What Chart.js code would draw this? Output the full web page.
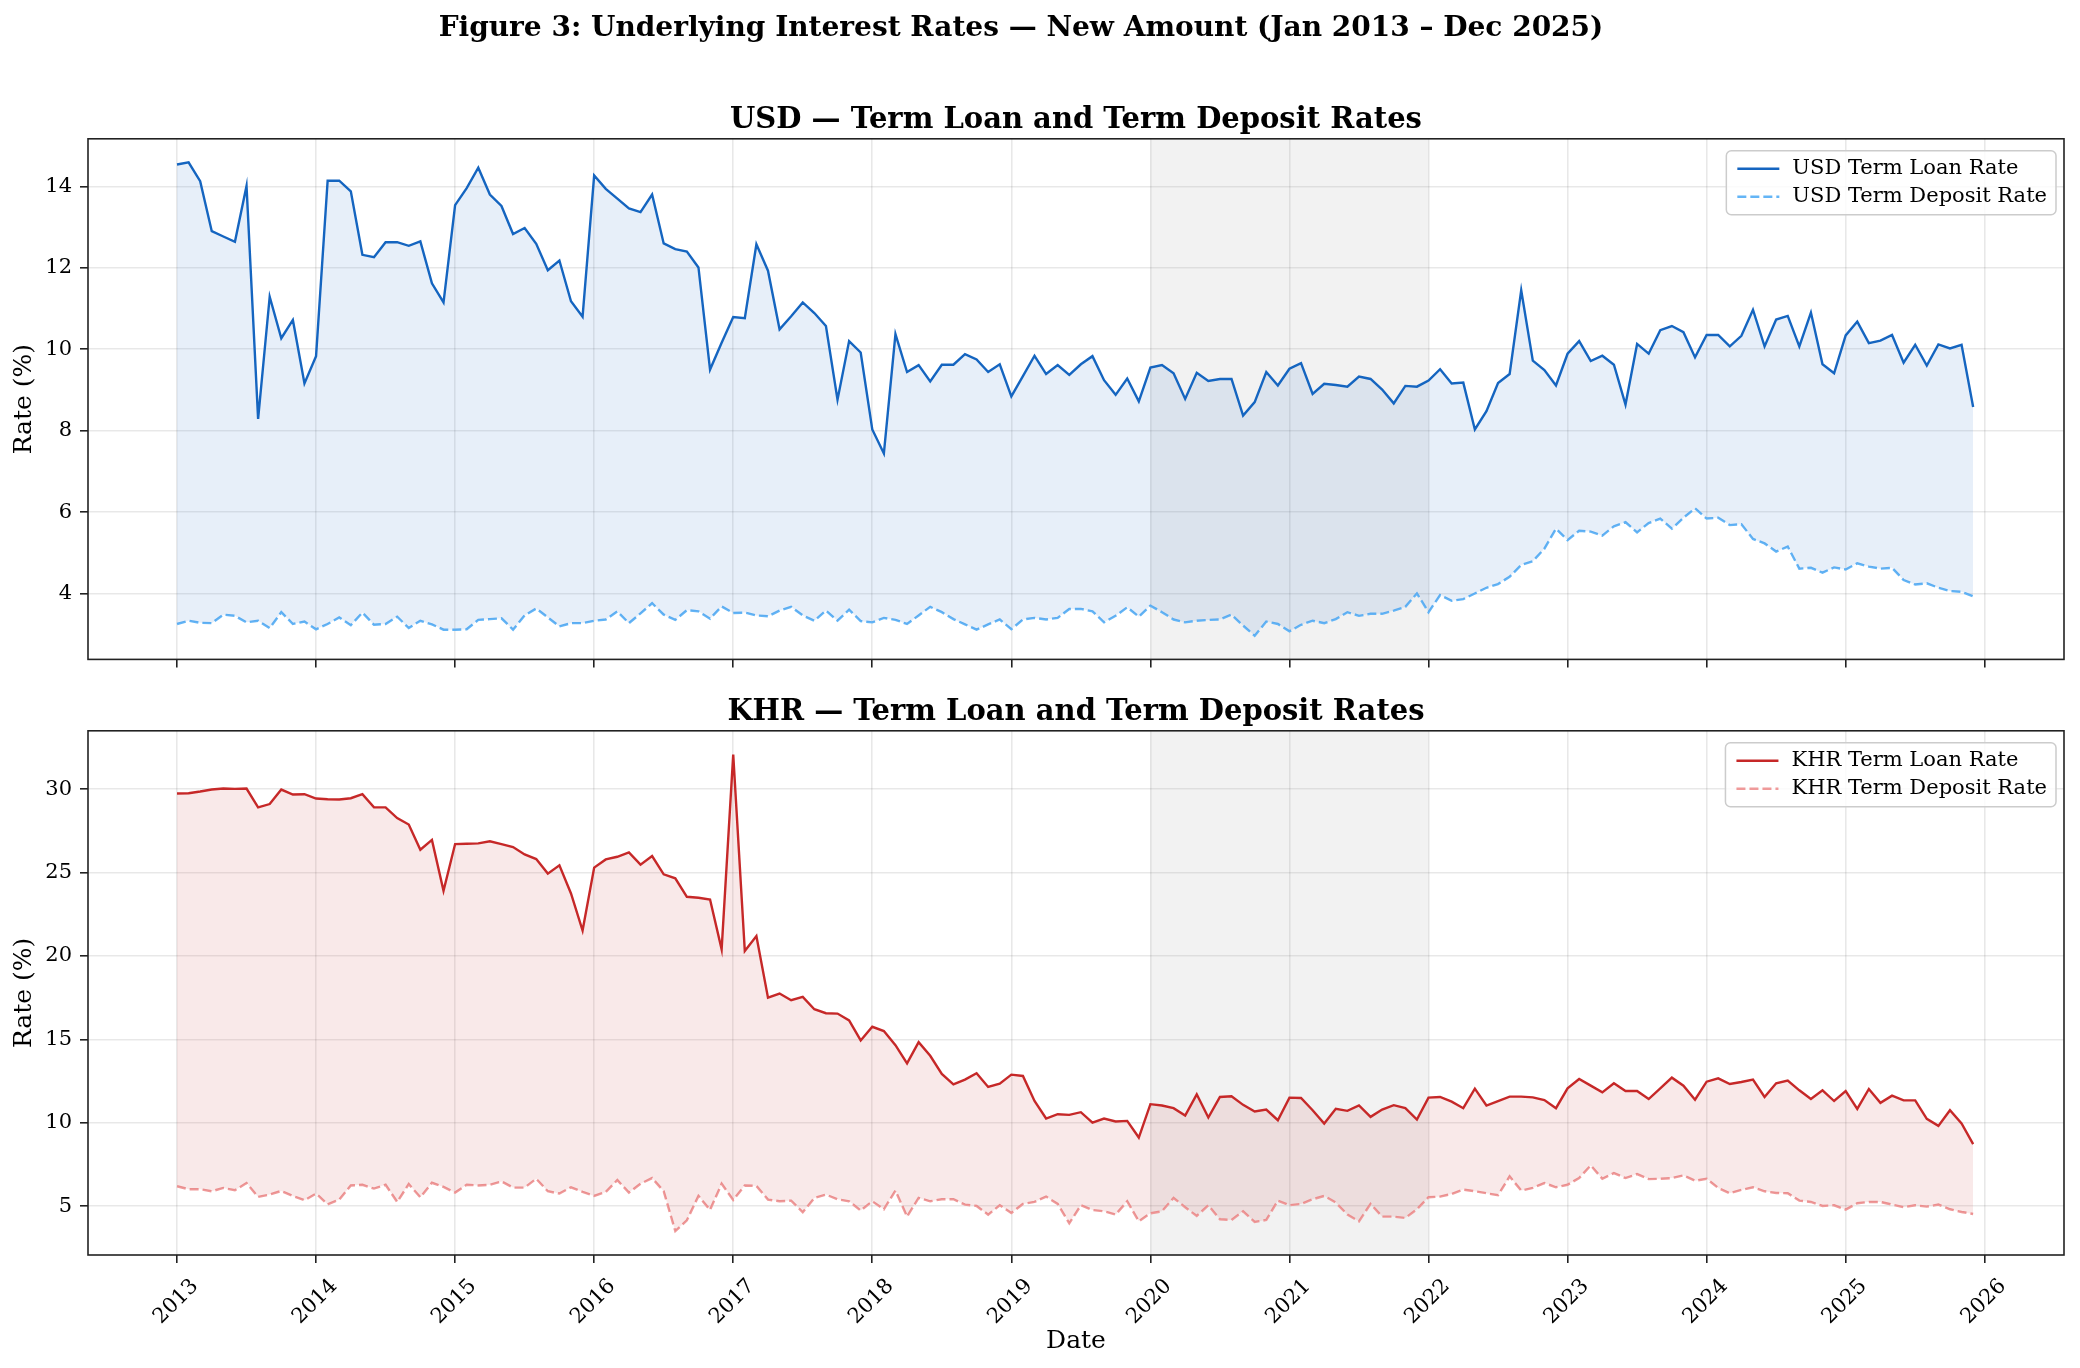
<!DOCTYPE html>
<html>
<head>
<meta charset="utf-8">
<title>Figure 3: Underlying Interest Rates</title>
<script src="https://cdn.jsdelivr.net/npm/chart.js@4.4.1/dist/chart.umd.min.js"></script>
<style>
  html, body { margin: 0; padding: 0; background: #fff; }
  body { width: 2080px; height: 1368px; position: relative; overflow: hidden; }
  .panel { position: absolute; left: 0; width: 2080px; }
  #usdBox { top: 0; height: 680px; }
  #khrBox { top: 680px; height: 688px; }
  #figTitle {
    position: absolute; left: 0; top: 10px; width: 2042px; height: 36px;
    line-height: 36px; text-align: center; z-index: 2;
    font: bold 28px 'DejaVu Serif', serif; color: #000;
  }
</style>
</head>
<body>
<div id="figTitle">Figure 3: Underlying Interest Rates — New Amount (Jan 2013 – Dec 2025)</div>
<div class="panel" id="usdBox"><canvas id="usdChart"></canvas></div>
<div class="panel" id="khrBox"><canvas id="khrChart"></canvas></div>
<script>
// Monthly series, Jan 2013 - Dec 2025, one row per year
const startYear = 2013;

const usdLoan = [
  14.54, 14.59, 14.13, 12.90, 12.77, 12.64, 14.01, 8.29, 11.29, 10.27, 10.72, 9.16,
  9.83, 14.14, 14.14, 13.88, 12.32, 12.26, 12.63, 12.63, 12.54, 12.65, 11.62, 11.15,
  13.54, 13.96, 14.46, 13.80, 13.52, 12.83, 12.98, 12.59, 11.94, 12.18, 11.18, 10.80,
  14.27, 13.94, 13.70, 13.46, 13.37, 13.80, 12.60, 12.46, 12.40, 12.01, 9.50, 10.16,
  10.79, 10.76, 12.58, 11.93, 10.49, 10.81, 11.15, 10.89, 10.57, 8.76, 10.20, 9.92,
  8.03, 7.44, 10.37, 9.44, 9.61, 9.21, 9.62, 9.62, 9.88, 9.75, 9.44, 9.63,
  8.84, 9.34, 9.84, 9.39, 9.61, 9.37, 9.63, 9.83, 9.24, 8.88, 9.28, 8.72,
  9.55, 9.61, 9.41, 8.78, 9.42, 9.22, 9.27, 9.27, 8.37, 8.70, 9.44, 9.11,
  9.52, 9.66, 8.90, 9.15, 9.12, 9.08, 9.33, 9.27, 9.01, 8.67, 9.10, 9.08,
  9.23, 9.51, 9.16, 9.18, 8.03, 8.48, 9.17, 9.39, 11.45, 9.72, 9.49, 9.11,
  9.89, 10.20, 9.71, 9.84, 9.62, 8.64, 10.13, 9.89, 10.47, 10.57, 10.42, 9.80,
  10.35, 10.35, 10.07, 10.33, 10.97, 10.07, 10.73, 10.82, 10.07, 10.90, 9.63, 9.41,
  10.34, 10.68, 10.15, 10.21, 10.35, 9.67, 10.11, 9.60, 10.12, 10.02, 10.11, 8.58
];

const usdDeposit = [
  3.25, 3.33, 3.28, 3.27, 3.48, 3.45, 3.29, 3.33, 3.15, 3.54, 3.25, 3.31,
  3.12, 3.25, 3.41, 3.22, 3.53, 3.23, 3.25, 3.43, 3.15, 3.33, 3.24, 3.11,
  3.11, 3.12, 3.35, 3.37, 3.39, 3.11, 3.46, 3.63, 3.41, 3.19, 3.27, 3.27,
  3.33, 3.36, 3.56, 3.27, 3.51, 3.76, 3.48, 3.35, 3.59, 3.56, 3.38, 3.68,
  3.52, 3.53, 3.46, 3.44, 3.58, 3.67, 3.46, 3.33, 3.58, 3.33, 3.60, 3.32,
  3.29, 3.40, 3.35, 3.25, 3.46, 3.67, 3.54, 3.37, 3.24, 3.11, 3.24, 3.36,
  3.12, 3.36, 3.40, 3.36, 3.40, 3.62, 3.62, 3.56, 3.29, 3.45, 3.66, 3.43,
  3.70, 3.54, 3.36, 3.29, 3.33, 3.35, 3.36, 3.48, 3.21, 2.96, 3.31, 3.25,
  3.07, 3.23, 3.33, 3.27, 3.37, 3.54, 3.45, 3.50, 3.50, 3.58, 3.67, 4.00,
  3.54, 3.96, 3.82, 3.86, 4.00, 4.14, 4.23, 4.41, 4.70, 4.79, 5.10, 5.59,
  5.31, 5.54, 5.52, 5.42, 5.65, 5.75, 5.50, 5.73, 5.84, 5.59, 5.86, 6.09,
  5.84, 5.86, 5.68, 5.70, 5.34, 5.23, 5.03, 5.15, 4.61, 4.63, 4.51, 4.64,
  4.59, 4.74, 4.66, 4.61, 4.63, 4.33, 4.22, 4.25, 4.14, 4.06, 4.04, 3.93
];

const khrLoan = [
  29.74, 29.76, 29.86, 29.98, 30.04, 30.02, 30.04, 28.91, 29.11, 29.98, 29.68, 29.70,
  29.44, 29.40, 29.38, 29.46, 29.70, 28.91, 28.91, 28.27, 27.88, 26.37, 26.96, 23.91,
  26.71, 26.73, 26.75, 26.88, 26.71, 26.53, 26.09, 25.81, 24.94, 25.44, 23.75, 21.53,
  25.30, 25.79, 25.95, 26.21, 25.48, 25.99, 24.90, 24.66, 23.55, 23.49, 23.39, 20.40,
  32.08, 20.30, 21.20, 17.50, 17.75, 17.35, 17.55, 16.81, 16.57, 16.55, 16.14, 14.94,
  15.76, 15.50, 14.66, 13.57, 14.84, 14.02, 12.93, 12.31, 12.59, 12.97, 12.15, 12.35,
  12.89, 12.81, 11.31, 10.26, 10.52, 10.48, 10.64, 10.02, 10.26, 10.08, 10.12, 9.12,
  11.12, 11.04, 10.88, 10.44, 11.71, 10.32, 11.55, 11.59, 11.08, 10.68, 10.80, 10.16,
  11.51, 11.49, 10.76, 9.96, 10.84, 10.72, 11.04, 10.36, 10.80, 11.06, 10.88, 10.20,
  11.51, 11.55, 11.27, 10.88, 12.05, 11.04, 11.31, 11.57, 11.57, 11.53, 11.37, 10.88,
  12.07, 12.63, 12.23, 11.83, 12.37, 11.91, 11.91, 11.43, 12.07, 12.71, 12.23, 11.39,
  12.47, 12.67, 12.33, 12.45, 12.59, 11.55, 12.37, 12.53, 11.95, 11.43, 11.95, 11.31,
  11.91, 10.84, 12.03, 11.20, 11.63, 11.35, 11.35, 10.24, 9.82, 10.76, 9.96, 8.73
];

const khrDeposit = [
  6.20, 6.02, 6.02, 5.90, 6.10, 5.96, 6.39, 5.56, 5.70, 5.92, 5.62, 5.36,
  5.76, 5.12, 5.40, 6.25, 6.29, 6.06, 6.29, 5.26, 6.33, 5.54, 6.41, 6.16,
  5.82, 6.29, 6.25, 6.29, 6.49, 6.12, 6.12, 6.65, 5.90, 5.76, 6.14, 5.86,
  5.62, 5.86, 6.57, 5.82, 6.35, 6.69, 5.90, 3.51, 4.16, 5.62, 4.78, 6.35,
  5.38, 6.25, 6.22, 5.40, 5.30, 5.34, 4.64, 5.50, 5.70, 5.42, 5.30, 4.74,
  5.30, 4.82, 5.94, 4.38, 5.50, 5.30, 5.42, 5.42, 5.10, 5.02, 4.50, 5.06,
  4.60, 5.14, 5.26, 5.58, 5.14, 3.98, 5.06, 4.78, 4.70, 4.50, 5.30, 4.10,
  4.58, 4.70, 5.50, 4.94, 4.42, 5.06, 4.22, 4.18, 4.70, 4.06, 4.18, 5.34,
  5.06, 5.14, 5.42, 5.62, 5.22, 4.50, 4.10, 5.14, 4.38, 4.38, 4.30, 4.82,
  5.54, 5.58, 5.74, 6.00, 5.90, 5.78, 5.66, 6.79, 5.94, 6.10, 6.39, 6.14,
  6.29, 6.69, 7.45, 6.65, 6.99, 6.69, 6.93, 6.63, 6.65, 6.69, 6.85, 6.53,
  6.65, 6.10, 5.78, 5.98, 6.14, 5.90, 5.80, 5.78, 5.34, 5.26, 5.02, 5.06,
  4.80, 5.18, 5.26, 5.26, 5.10, 4.94, 5.06, 4.98, 5.10, 4.82, 4.66, 4.54
];

const yearTicks = [2013, 2014, 2015, 2016, 2017, 2018, 2019, 2020, 2021, 2022, 2023, 2024, 2025, 2026];
const usdTicks = [4, 6, 8, 10, 12, 14];
const khrTicks = [5, 10, 15, 20, 25, 30];
const shadedPeriod = [2020, 2022];

// Color palette
const colors = {
  usdLoan: '#1565C0',
  usdDeposit: '#64B5F6',
  usdFill: 'rgba(21, 101, 192, 0.1)',
  khrLoan: '#C62828',
  khrDeposit: '#EF9A9A',
  khrFill: 'rgba(198, 40, 40, 0.1)',
  grid: 'rgba(0, 0, 0, 0.09)',
  spine: '#222222',
  band: 'rgba(128, 128, 128, 0.1)',
};

const months = usdLoan.map((_, i) => startYear + i / 12);
const toPoints = values => values.map((v, i) => ({ x: months[i], y: v }));

Chart.defaults.font.family = "'DejaVu Serif', serif";
Chart.defaults.color = '#000';

// Grey band over the shaded period
const bandPlugin = {
  id: 'band',
  beforeDatasetsDraw(chart) {
    const { ctx, chartArea: a, scales: { x } } = chart;
    const x0 = x.getPixelForValue(shadedPeriod[0]);
    const x1 = x.getPixelForValue(shadedPeriod[1]);
    ctx.save();
    ctx.fillStyle = colors.band;
    ctx.fillRect(x0, a.top, x1 - x0, a.bottom - a.top);
    ctx.restore();
  }
};

// Box around the plot area (all four spines)
const framePlugin = {
  id: 'frame',
  afterDatasetsDraw(chart) {
    const { ctx, chartArea: a } = chart;
    ctx.save();
    ctx.strokeStyle = colors.spine;
    ctx.lineWidth = 1.6;
    ctx.strokeRect(a.left, a.top, a.right - a.left, a.bottom - a.top);
    ctx.restore();
  }
};

// Legend in the upper right corner, inside the axes
const boxLegendPlugin = {
  id: 'boxLegend',
  afterDraw(chart) {
    const { ctx, chartArea: a } = chart;
    const sets = chart.data.datasets;
    const lineLen = 42, gap = 13, padL = 11, padR = 9, rowH = 28, padT = 17;
    ctx.save();
    ctx.font = "21px 'DejaVu Serif'";
    const textW = Math.max(...sets.map(d => ctx.measureText(d.label).width));
    const w = padL + lineLen + gap + textW + padR;
    const h = padT * 2 + rowH * (sets.length - 1) + 2;
    const left = a.right - 8 - w;
    const top = a.top + 12;

    ctx.beginPath();
    ctx.roundRect(left, top, w, h, 5);
    ctx.fillStyle = 'rgba(255, 255, 255, 0.8)';
    ctx.fill();
    ctx.strokeStyle = '#cccccc';
    ctx.lineWidth = 1.5;
    ctx.stroke();

    sets.forEach((d, i) => {
      const y = top + padT + 1 + i * rowH;
      ctx.beginPath();
      ctx.setLineDash(d.borderDash || []);
      ctx.strokeStyle = d.borderColor;
      ctx.lineWidth = d.borderWidth;
      ctx.moveTo(left + padL, y);
      ctx.lineTo(left + padL + lineLen, y);
      ctx.stroke();
      ctx.setLineDash([]);
      ctx.fillStyle = '#000';
      ctx.textBaseline = 'middle';
      ctx.textAlign = 'left';
      ctx.fillText(d.label, left + padL + lineLen + gap, y);
    });
    ctx.restore();
  }
};

function lineSet(label, values, color, dashed, fillColor) {
  return {
    label: label,
    data: toPoints(values),
    borderColor: color,
    backgroundColor: fillColor || color,
    borderWidth: 2.4,
    borderDash: dashed ? [9, 4] : [],
    pointRadius: 0,
    tension: 0,
    fill: fillColor ? '+1' : false
  };
}

function makePanel(canvasId, opts) {
  const xAxis = {
    type: 'linear',
    min: 2012.36,
    max: 2026.57,
    afterBuildTicks: axis => { axis.ticks = yearTicks.map(v => ({ value: v })); },
    afterFit: axis => { axis.height = opts.xHeight; },
    grid: { color: colors.grid, lineWidth: 1.6, tickLength: 8, tickColor: colors.spine, tickWidth: 1.6 },
    border: { display: false },
    ticks: {
      display: opts.showDates,
      autoSkip: false,
      minRotation: 45,
      maxRotation: 45,
      labelOffset: 18,
      padding: 11,
      font: { size: 21 },
      callback: v => String(v)
    },
    title: { display: opts.showDates, text: 'Date', font: { size: 25 }, padding: { top: 0, bottom: 12 } }
  };

  const yAxis = {
    type: 'linear',
    min: opts.yMin,
    max: opts.yMax,
    afterBuildTicks: axis => { axis.ticks = opts.yTicks.map(v => ({ value: v })); },
    afterFit: axis => { axis.width = 88; },
    grid: { color: colors.grid, lineWidth: 1.6, tickLength: 8, tickColor: colors.spine, tickWidth: 1.6 },
    border: { display: false },
    ticks: { padding: 8, font: { size: 21 }, callback: v => String(v) },
    title: { display: true, text: 'Rate (%)', font: { size: 25 }, padding: { top: 9, bottom: 0 } }
  };

  return new Chart(document.getElementById(canvasId), {
    type: 'line',
    data: { datasets: opts.datasets },
    options: {
      responsive: true,
      maintainAspectRatio: false,
      animation: false,
      layout: { padding: { left: 0, right: 16, top: 0, bottom: 0 } },
      scales: { x: xAxis, y: yAxis },
      plugins: {
        legend: { display: false },
        tooltip: { enabled: false },
        title: opts.title
      }
    },
    plugins: [bandPlugin, framePlugin, boxLegendPlugin]
  });
}

document.addEventListener('DOMContentLoaded', function () {
  // 1. USD panel
  makePanel('usdChart', {
    datasets: [
      lineSet('USD Term Loan Rate', usdLoan, colors.usdLoan, false, colors.usdFill),
      lineSet('USD Term Deposit Rate', usdDeposit, colors.usdDeposit, true)
    ],
    yTicks: usdTicks,
    yMin: 2.38,
    yMax: 15.17,
    xHeight: 18,
    showDates: false,
    title: {
      display: true,
      text: 'USD \u2014 Term Loan and Term Deposit Rates',
      font: { size: 29, weight: 'bold' },
      padding: { top: 103, bottom: 1 },
      fullSize: false
    }
  });

  // 2. KHR panel
  makePanel('khrChart', {
    datasets: [
      lineSet('KHR Term Loan Rate', khrLoan, colors.khrLoan, false, colors.khrFill),
      lineSet('KHR Term Deposit Rate', khrDeposit, colors.khrDeposit, true)
    ],
    yTicks: khrTicks,
    yMin: 2.08,
    yMax: 33.5,
    xHeight: 113,
    showDates: true,
    title: {
      display: true,
      text: 'KHR \u2014 Term Loan and Term Deposit Rates',
      font: { size: 29, weight: 'bold' },
      padding: { top: 15, bottom: 1 },
      fullSize: false
    }
  });
});
</script>
</body>
</html>
